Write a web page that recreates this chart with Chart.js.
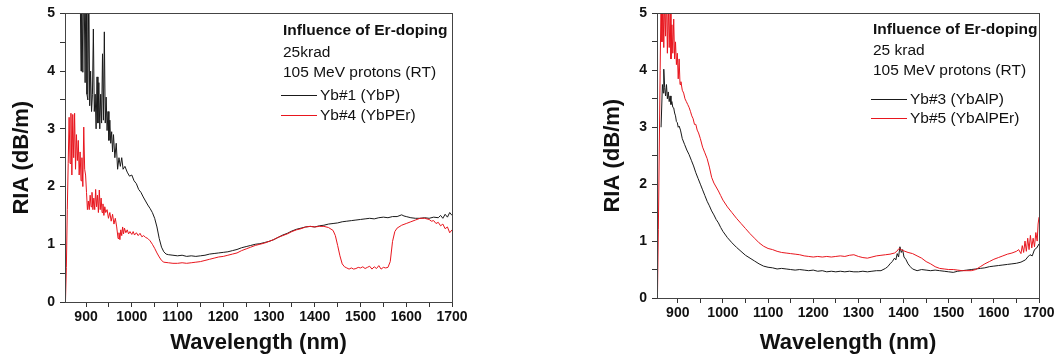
<!DOCTYPE html>
<html>
<head>
<meta charset="utf-8">
<script src="https://cdn.jsdelivr.net/npm/chart.js@4"></script>
<style>
  body { margin: 0; background: #fff; width: 1058px; height: 359px; position: relative; overflow: hidden; }
  canvas { position: absolute; top: 0; }
  #left { left: 0; }
  #right { left: 591px; }
</style>
</head>
<body>
<canvas id="left" width="480" height="359"></canvas>
<canvas id="right" width="467" height="359"></canvas>
<script>
// axis ticks
const xTickValues = [900, 950, 1000, 1050, 1100, 1150, 1200, 1250, 1300, 1350, 1400, 1450, 1500, 1550, 1600, 1650, 1700];
const xTickLabels = ["900", "1000", "1100", "1200", "1300", "1400", "1500", "1600", "1700"];
const yTickValues = [0, 0.5, 1, 1.5, 2, 2.5, 3, 3.5, 4, 4.5, 5];
const yTickLabels = ["0", "1", "2", "3", "4", "5"];

// left panel: Yb#1 (YbP)
const wlYbP = [886, 889, 890, 893, 895, 898, 900, 902, 904, 906, 908, 910, 912, 914, 916, 918, 920, 922, 924, 926, 928, 930, 932, 934, 936, 938, 940, 942, 944, 946, 948, 950, 952, 954, 956, 958, 960, 963, 966, 969, 972, 975, 978, 981, 985, 990, 995, 1000, 1005, 1010, 1015, 1020, 1025, 1030, 1035, 1040, 1045, 1050, 1055, 1060, 1065, 1070, 1075, 1080, 1090, 1100, 1110, 1120, 1130, 1140, 1150, 1160, 1170, 1180, 1190, 1200, 1210, 1220, 1230, 1240, 1250, 1260, 1270, 1280, 1290, 1300, 1310, 1320, 1330, 1340, 1350, 1360, 1370, 1380, 1390, 1400, 1410, 1420, 1430, 1440, 1450, 1460, 1470, 1480, 1490, 1500, 1510, 1520, 1530, 1540, 1550, 1560, 1570, 1580, 1590, 1595, 1600, 1610, 1620, 1630, 1640, 1650, 1660, 1670, 1675, 1680, 1685, 1690, 1695, 1700];
const riaYbP = [6.5, 4.0, 6, 3.98, 6, 3.8, 6, 3.6, 3.5, 5.5, 3.4, 4.0, 3.3, 3.6, 4.73, 3.3, 3.6, 3.0, 3.9, 3.1, 3.8, 3.0, 3.6, 3.1, 4.3, 3.15, 4.68, 3.1, 3.55, 2.97, 3.3, 2.8, 3.15, 2.75, 2.95, 2.6, 2.9, 2.5, 2.75, 2.3, 2.5, 2.35, 2.5, 2.3, 2.35, 2.25, 2.18, 2.2, 2.1, 2.05, 1.95, 1.9, 1.82, 1.75, 1.68, 1.62, 1.55, 1.45, 1.3, 1.1, 0.95, 0.87, 0.83, 0.82, 0.81, 0.80, 0.81, 0.79, 0.80, 0.79, 0.80, 0.81, 0.83, 0.84, 0.85, 0.86, 0.87, 0.89, 0.91, 0.94, 0.96, 0.98, 1.00, 1.01, 1.03, 1.05, 1.08, 1.12, 1.16, 1.19, 1.23, 1.26, 1.28, 1.30, 1.31, 1.30, 1.32, 1.33, 1.35, 1.36, 1.37, 1.39, 1.40, 1.41, 1.42, 1.43, 1.44, 1.45, 1.44, 1.46, 1.47, 1.46, 1.48, 1.48, 1.51, 1.49, 1.48, 1.46, 1.45, 1.45, 1.46, 1.45, 1.47, 1.46, 1.50, 1.45, 1.52, 1.47, 1.55, 1.50];

// left panel: Yb#4 (YbPEr)
const wlYbPEr = [855, 857, 859, 861, 863, 865, 867, 869, 871, 873, 875, 877, 879, 881, 883, 885, 887, 889, 891, 893, 895, 897, 899, 901, 903, 905, 907, 909, 911, 913, 915, 917, 919, 921, 923, 925, 927, 929, 931, 933, 935, 937, 939, 941, 943, 946, 949, 952, 955, 958, 961, 964, 967, 970, 972, 974, 976, 978, 980, 982, 984, 987, 990, 993, 996, 1000, 1003, 1006, 1010, 1014, 1018, 1022, 1026, 1030, 1035, 1040, 1045, 1050, 1055, 1060, 1065, 1070, 1080, 1090, 1100, 1110, 1120, 1130, 1140, 1150, 1160, 1170, 1180, 1190, 1200, 1210, 1220, 1230, 1240, 1250, 1260, 1270, 1280, 1290, 1300, 1310, 1320, 1330, 1340, 1350, 1360, 1370, 1380, 1390, 1400, 1410, 1420, 1430, 1440, 1445, 1450, 1455, 1460, 1465, 1470, 1475, 1480, 1485, 1490, 1495, 1500, 1505, 1510, 1515, 1520, 1525, 1530, 1535, 1540, 1545, 1550, 1555, 1560, 1565, 1570, 1575, 1580, 1590, 1600, 1610, 1620, 1630, 1640, 1650, 1655, 1660, 1665, 1670, 1675, 1680, 1685, 1690, 1695, 1700];
const riaYbPEr = [0.0, 0.6, 1.6, 2.4, 3.2, 2.4, 3.27, 2.2, 3.25, 2.5, 3.27, 2.3, 2.9, 2.45, 2.8, 2.2, 2.6, 2.1, 2.5, 2.0, 3.03, 2.3, 2.2, 1.9, 1.6, 1.75, 1.6, 1.85, 1.65, 1.9, 1.6, 1.8, 1.6, 1.95, 1.65, 1.85, 1.55, 1.94, 1.6, 1.8, 1.55, 1.7, 1.5, 1.65, 1.55, 1.6, 1.45, 1.55, 1.4, 1.52, 1.35, 1.45, 1.3, 1.1, 1.2, 1.08, 1.25, 1.15, 1.3, 1.18, 1.28, 1.2, 1.25, 1.18, 1.22, 1.17, 1.22, 1.16, 1.2, 1.15, 1.19, 1.13, 1.15, 1.12, 1.1, 1.06, 1.0, 0.93, 0.85, 0.78, 0.72, 0.69, 0.68, 0.67, 0.67, 0.68, 0.67, 0.68, 0.69, 0.70, 0.72, 0.74, 0.76, 0.78, 0.79, 0.81, 0.83, 0.85, 0.89, 0.92, 0.95, 0.98, 1.00, 1.02, 1.05, 1.08, 1.12, 1.15, 1.18, 1.22, 1.25, 1.27, 1.30, 1.31, 1.30, 1.31, 1.31, 1.29, 1.24, 1.15, 0.98, 0.8, 0.66, 0.61, 0.59, 0.57, 0.59, 0.57, 0.58, 0.6, 0.59, 0.61, 0.58, 0.6, 0.62, 0.57, 0.61, 0.58, 0.63, 0.57, 0.6, 0.59, 0.6, 0.7, 1.05, 1.22, 1.28, 1.33, 1.36, 1.39, 1.42, 1.45, 1.45, 1.43, 1.4, 1.41, 1.36, 1.38, 1.32, 1.35, 1.27, 1.3, 1.2, 1.25];

// right panel: Yb#3 (YbAlP)
const wlYbAlP = [863, 866, 868, 869, 871, 873, 875, 877, 879, 881, 883, 885, 887, 889, 891, 893, 895, 897, 899, 901, 903, 906, 910, 915, 920, 925, 930, 935, 940, 945, 950, 955, 960, 965, 970, 975, 980, 985, 990, 995, 1000, 1010, 1020, 1030, 1040, 1050, 1060, 1070, 1080, 1090, 1100, 1110, 1120, 1130, 1140, 1150, 1160, 1170, 1180, 1190, 1200, 1210, 1220, 1230, 1240, 1250, 1260, 1270, 1280, 1290, 1300, 1310, 1320, 1330, 1340, 1350, 1360, 1365, 1370, 1375, 1380, 1383, 1386, 1389, 1392, 1395, 1398, 1401, 1405, 1410, 1415, 1420, 1430, 1440, 1450, 1460, 1470, 1480, 1490, 1500, 1510, 1520, 1530, 1540, 1550, 1560, 1570, 1580, 1590, 1600, 1610, 1620, 1630, 1640, 1650, 1660, 1670, 1675, 1680, 1685, 1690, 1695, 1700];
const riaYbAlP = [3.0, 3.75, 3.6, 4.02, 3.7, 3.55, 3.75, 3.5, 3.62, 3.45, 3.55, 3.4, 3.45, 3.35, 3.34, 3.25, 3.2, 3.1, 3.08, 3.0, 3.02, 2.95, 2.8, 2.7, 2.6, 2.52, 2.42, 2.32, 2.2, 2.1, 2.0, 1.9, 1.8, 1.7, 1.62, 1.53, 1.46, 1.38, 1.32, 1.24, 1.17, 1.06, 0.97, 0.89, 0.82, 0.75, 0.7, 0.65, 0.6, 0.56, 0.54, 0.53, 0.51, 0.52, 0.51, 0.5, 0.49, 0.5, 0.49, 0.48, 0.49, 0.47, 0.48, 0.46, 0.47, 0.46, 0.47, 0.46, 0.47, 0.46, 0.46, 0.47, 0.46, 0.47, 0.48, 0.48, 0.52, 0.55, 0.6, 0.64, 0.7, 0.67, 0.78, 0.72, 0.9, 0.8, 0.85, 0.72, 0.68, 0.6, 0.55, 0.51, 0.48, 0.5, 0.49, 0.48, 0.49, 0.48, 0.47, 0.46, 0.45, 0.47, 0.48, 0.49, 0.5, 0.51, 0.52, 0.53, 0.55, 0.56, 0.57, 0.58, 0.59, 0.6, 0.61, 0.63, 0.67, 0.72, 0.76, 0.74, 0.85, 0.88, 0.95];

// right panel: Yb#5 (YbAlPEr)
const wlYbAlPEr = [855, 857, 859, 861, 863, 865, 867, 869, 871, 873, 875, 877, 879, 881, 883, 885, 887, 889, 891, 893, 895, 897, 899, 901, 903, 905, 907, 910, 913, 916, 919, 922, 925, 928, 931, 934, 937, 940, 943, 946, 950, 955, 960, 965, 970, 975, 980, 985, 990, 995, 1000, 1010, 1020, 1030, 1040, 1050, 1060, 1070, 1080, 1090, 1100, 1110, 1120, 1130, 1140, 1150, 1160, 1170, 1180, 1190, 1200, 1210, 1220, 1230, 1240, 1250, 1260, 1270, 1280, 1290, 1300, 1310, 1320, 1330, 1340, 1350, 1360, 1370, 1380, 1385, 1390, 1395, 1400, 1410, 1420, 1430, 1440, 1450, 1460, 1470, 1480, 1490, 1500, 1510, 1520, 1530, 1540, 1550, 1560, 1570, 1580, 1590, 1600, 1610, 1620, 1630, 1640, 1650, 1655, 1660, 1663, 1666, 1669, 1672, 1675, 1678, 1681, 1684, 1687, 1690, 1693, 1696, 1698, 1700];
const riaYbAlPEr = [0.0, 1.2, 2.6, 4.0, 5.3, 4.5, 5.4, 4.4, 5.3, 4.6, 5.4, 4.3, 5.2, 4.4, 5.0, 4.2, 4.8, 4.3, 4.9, 4.2, 4.5, 4.1, 4.3, 3.85, 4.2, 3.75, 3.8, 3.65, 3.6, 3.5, 3.45, 3.4, 3.35, 3.28, 3.2, 3.15, 3.05, 3.05, 2.95, 2.9, 2.8, 2.65, 2.55, 2.45, 2.3, 2.12, 2.02, 1.95, 1.88, 1.8, 1.72, 1.6, 1.5, 1.4, 1.31, 1.22, 1.13, 1.05, 0.97, 0.91, 0.87, 0.85, 0.82, 0.8, 0.79, 0.78, 0.77, 0.76, 0.74, 0.73, 0.72, 0.73, 0.72, 0.73, 0.72, 0.73, 0.74, 0.73, 0.75, 0.76, 0.73, 0.71, 0.7, 0.72, 0.74, 0.75, 0.76, 0.77, 0.79, 0.82, 0.87, 0.85, 0.83, 0.8, 0.78, 0.74, 0.7, 0.64, 0.6, 0.55, 0.52, 0.51, 0.5, 0.5, 0.49, 0.48, 0.48, 0.48, 0.5, 0.55, 0.6, 0.64, 0.68, 0.71, 0.74, 0.77, 0.79, 0.82, 0.85, 0.78, 0.92, 0.8, 1.0, 0.82, 1.05, 0.85, 1.1, 0.88, 1.05, 0.9, 1.15, 1.0, 1.3, 1.42];

const FONT = "'Liberation Sans', Arial, sans-serif";
const BLACK = "#1a1a1a";
const RED = "#e8161e";

const toPoints = (wl, ria) => wl.map((w, i) => ({ x: w, y: ria[i] }));

// box round the plot + text legend in the top right corner
const boxPlugin = {
  id: "box",
  afterDraw (chart, args, opts) {

    const { ctx, chartArea: a } = chart;
    ctx.save();
    ctx.strokeStyle = "#444";
    ctx.lineWidth = 1;
    ctx.strokeRect(Math.round(a.left) + 0.5, Math.round(a.top) + 0.5,
      Math.round(a.right - a.left), Math.round(a.bottom - a.top));

    const x0 = a.right - opts.left;
    ctx.textBaseline = "middle";
    ctx.textAlign = "left";
    opts.headers.forEach((txt, i) => {
      ctx.font = (i === 0 ? "bold " : "") + "15.5px " + FONT;
      ctx.fillStyle = "#111";
      ctx.fillText(txt, x0 + 1, a.top + opts.headerY[i]);
    });
    chart.data.datasets.forEach((ds, i) => {
      const y = Math.round(a.top + opts.entryY[i]) + 0.5;
      ctx.strokeStyle = ds.borderColor;
      ctx.beginPath();
      ctx.moveTo(x0 - 1, y);
      ctx.lineTo(x0 + 35, y);
      ctx.stroke();
      ctx.font = "15.5px " + FONT;
      ctx.fillStyle = "#111";
      ctx.fillText(ds.label, x0 + 38, y);
    });
    ctx.restore();

  },
};

function makeChart (id, series, cfg) {

  return new Chart(document.getElementById(id), {
    type: "line",
    data: {
      datasets: series.map((s) => ({
        label: s.label,
        data: toPoints(s.wl, s.ria),
        borderColor: s.color,
        borderWidth: 1,
        pointRadius: 0,
        order: s.order,
      })),
    },
    options: {
      responsive: false,
      animation: false,
      events: [],
      layout: { padding: { top: cfg.top, right: cfg.right, left: 0, bottom: 0 } },
      plugins: {
        legend: { display: false },
        tooltip: { enabled: false },
        box: cfg.legend,
      },
      scales: {
        x: {
          type: "linear",
          min: 854,
          max: 1700,
          afterBuildTicks: (s) => { s.ticks = xTickValues.map((v) => ({ value: v })); },
          afterFit: (s) => { s.height = cfg.xHeight; },
          border: { display: false },
          grid: { drawOnChartArea: false, tickLength: 5, tickColor: "#333" },
          ticks: {
            padding: 2,
            maxRotation: 0,
            minRotation: 0,
            autoSkip: false,
            color: "#111",
            font: { family: FONT, size: 14, weight: "bold" },
            callback: (v) => (xTickLabels.includes(String(v)) ? String(v) : ""),
          },
          title: {
            display: true,
            text: "Wavelength (nm)",
            color: "#111",
            padding: { top: 0, bottom: 3 },
            font: { family: FONT, size: 22, weight: "bold" },
          },
        },
        y: {
          min: 0,
          max: 5,
          afterBuildTicks: (s) => { s.ticks = yTickValues.map((v) => ({ value: v })); },
          afterFit: (s) => { s.width = cfg.yWidth; },
          border: { display: false },
          grid: { drawOnChartArea: false, tickLength: 5, tickColor: "#333" },
          ticks: {
            padding: 5,
            autoSkip: false,
            color: "#111",
            font: { family: FONT, size: 14, weight: "bold" },
            callback: (v) => (yTickLabels.includes(String(v)) ? String(v) : ""),
          },
          title: {
            display: true,
            text: "RIA (dB/m)",
            color: "#111",
            padding: { top: 9, bottom: 0 },
            font: { family: FONT, size: 22, weight: "bold" },
          },
        },
      },
    },
    plugins: [boxPlugin],
  });

}

makeChart("left", [
  { label: "Yb#1 (YbP)", wl: wlYbP, ria: riaYbP, color: BLACK, order: 1 },
  { label: "Yb#4 (YbPEr)", wl: wlYbPEr, ria: riaYbPEr, color: RED, order: 0 },
], {
  top: 13, right: 28, yWidth: 65, xHeight: 57,
  legend: {
    left: 170,
    headers: ["Influence of Er-doping", "25krad", "105 MeV protons (RT)"],
    headerY: [17, 39, 59],
    entryY: [82, 102],
  },
});

makeChart("right", [
  { label: "Yb#3 (YbAlP)", wl: wlYbAlP, ria: riaYbAlP, color: BLACK, order: 1 },
  { label: "Yb#5 (YbAlPEr)", wl: wlYbAlPEr, ria: riaYbAlPEr, color: RED, order: 0 },
], {
  top: 12, right: 19, yWidth: 66, xHeight: 61,
  legend: {
    left: 167,
    headers: ["Influence of Er-doping", "25 krad", "105 MeV protons (RT)"],
    headerY: [16, 37, 57],
    entryY: [86, 105],
  },
});
</script>
</body>
</html>
